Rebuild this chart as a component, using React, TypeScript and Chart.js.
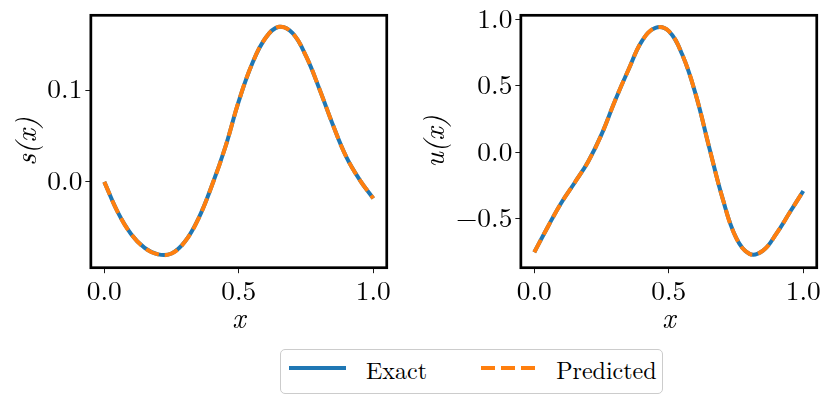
import React, { useEffect, useRef } from "react";
import { Chart, registerables } from "chart.js";

Chart.register(...registerables);

// ---- data ----
const xValues = [0, 0.05, 0.1, 0.15, 0.2, 0.25, 0.3, 0.35, 0.4, 0.45, 0.5, 0.55, 0.6, 0.65, 0.7, 0.75, 0.8, 0.85, 0.9, 0.95, 1.0];

const sExact = [0.0, -0.033, -0.057, -0.072, -0.079, -0.078, -0.065, -0.04, -0.004, 0.038, 0.088, 0.129, 0.157, 0.169, 0.162, 0.137, 0.101, 0.062, 0.027, 0.002, -0.018];
const sPredicted = [0.0, -0.033, -0.057, -0.072, -0.079, -0.078, -0.065, -0.04, -0.004, 0.038, 0.088, 0.129, 0.157, 0.169, 0.162, 0.137, 0.101, 0.062, 0.027, 0.002, -0.018];

const uExact = [-0.75, -0.56, -0.38, -0.228, -0.07, 0.135, 0.388, 0.62, 0.835, 0.935, 0.91, 0.734, 0.435, 0.039, -0.346, -0.64, -0.762, -0.738, -0.61, -0.45, -0.29];
const uPredicted = [-0.75, -0.56, -0.38, -0.228, -0.07, 0.135, 0.388, 0.62, 0.835, 0.935, 0.91, 0.734, 0.435, 0.039, -0.346, -0.64, -0.762, -0.738, -0.61, -0.45, -0.29];

const xTicks = [0, 0.5, 1.0];
const sTicks = [0, 0.1];
const uTicks = [-0.5, 0, 0.5, 1.0];

const seriesLabels = ["Exact", "Predicted"];

// ---- styles ----
const BLUE = "#1f77b4";
const ORANGE = "#ff7f0e";
const SERIF = "'Latin Modern Roman', 'Liberation Serif', serif";

function fmt(v: number): string {
  const s = Math.abs(v).toFixed(1);
  return v < 0 ? "\u2212" + s : s;
}

const framePlugin = {
  id: "frame",
  afterDraw(chart: any) {
    const { ctx, chartArea } = chart;
    const { left, top, right, bottom } = chartArea;
    ctx.save();
    ctx.strokeStyle = "#000";
    ctx.lineWidth = 2.7;
    ctx.strokeRect(left, top, right - left, bottom - top);
    ctx.restore();
  },
};

interface PanelProps {
  exact: number[];
  predicted: number[];
  yTicks: number[];
  yMin: number;
  yMax: number;
  yLabel: string;
  yAxisWidth: number;
  rightPad: number;
  yTitlePad: number;
}

function Panel(props: PanelProps) {
  const ref = useRef<HTMLCanvasElement>(null);
  useEffect(() => {
    const { exact, predicted, yTicks, yMin, yMax, yLabel, yAxisWidth, rightPad, yTitlePad } = props;
    const tickFont = { family: SERIF, size: 27.4 };
    const titleFont = { family: SERIF, size: 28.6, style: "italic" as const };
    const grid = {
      display: true,
      drawOnChartArea: false,
      drawTicks: true,
      tickLength: 5.5,
      tickWidth: 0.9,
      tickColor: "#000",
    };
    const chart = new Chart(ref.current!, {
      type: "line",
      data: {
        datasets: [
          {
            label: seriesLabels[0],
            data: xValues.map((x, i) => ({ x, y: exact[i] })),
            borderColor: BLUE,
            backgroundColor: BLUE,
            borderWidth: 4,
            pointRadius: 0,
            tension: 0.4,
            fill: false,
            order: 1,
          },
          {
            label: seriesLabels[1],
            data: xValues.map((x, i) => ({ x, y: predicted[i] })),
            borderColor: ORANGE,
            backgroundColor: ORANGE,
            borderWidth: 4,
            borderDash: [14, 6],
            pointRadius: 0,
            tension: 0.4,
            fill: false,
            order: 0,
          },
        ],
      },
      options: {
        animation: false,
        responsive: false,
        maintainAspectRatio: false,
        layout: { padding: { top: 15.3, right: rightPad, left: 0, bottom: 0 } },
        plugins: { legend: { display: false }, tooltip: { enabled: false } },
        scales: {
          x: {
            type: "linear",
            min: -0.05,
            max: 1.05,
            afterBuildTicks: (s: any) => {
              s.ticks = xTicks.map((v) => ({ value: v }));
            },
            ticks: {
              callback: (v: any) => fmt(Number(v)),
              font: tickFont,
              color: "#000",
              padding: 2,
              maxRotation: 0,
              autoSkip: false,
            },
            grid,
            border: { display: false },
            title: {
              display: true,
              text: "x",
              font: titleFont,
              color: "#000",
              padding: { top: 0, bottom: 3.3 },
            },
            afterFit: (s: any) => {
              s.height = 72.3;
              s.paddingLeft = 0;
              s.paddingRight = 0;
            },
          },
          y: {
            type: "linear",
            min: yMin,
            max: yMax,
            afterBuildTicks: (s: any) => {
              s.ticks = yTicks.map((v) => ({ value: v }));
            },
            ticks: {
              callback: (v: any) => fmt(Number(v)),
              font: tickFont,
              color: "#000",
              padding: 3,
              autoSkip: false,
            },
            grid,
            border: { display: false },
            title: {
              display: true,
              text: yLabel,
              font: titleFont,
              color: "#000",
              padding: { top: yTitlePad, bottom: 0 },
            },
            afterFit: (s: any) => {
              s.width = yAxisWidth;
              s.paddingTop = 0;
              s.paddingBottom = 0;
            },
          },
        },
      },
      plugins: [framePlugin],
    } as any);
    return () => chart.destroy();
  }, []);
  return <canvas ref={ref} width={415} height={340} style={{ display: "block", width: 415, height: 340 }} />;
}

function Legend() {
  const textStyle: React.CSSProperties = {
    position: "absolute",
    top: 6.6,
    fontFamily: SERIF,
    fontSize: 24,
    lineHeight: 1,
    color: "#000",
    whiteSpace: "nowrap",
  };
  const dash = (left: number): React.CSSProperties => ({
    position: "absolute",
    left,
    top: 16,
    width: 14,
    height: 4,
    background: ORANGE,
  });
  return (
    <div
      style={{
        position: "absolute",
        left: 280,
        top: 349,
        width: 383,
        height: 45,
        boxSizing: "border-box",
        border: "1.3px solid #cccccc",
        borderRadius: 5,
        background: "#fff",
      }}
    >
      <div style={{ position: "absolute", left: 7.7, top: 16, width: 57.7, height: 4, background: BLUE }} />
      <span style={{ ...textStyle, left: 85 }}>{seriesLabels[0]}</span>
      <div style={dash(200.4)} />
      <div style={dash(220.4)} />
      <div style={dash(240.4)} />
      <span style={{ ...textStyle, left: 275.2 }}>{seriesLabels[1]}</span>
    </div>
  );
}

export default function App() {
  return (
    <div style={{ position: "absolute", left: 0, top: 0, width: 830, height: 404, background: "#fff", overflow: "hidden" }}>
      <div style={{ position: "absolute", left: 0, top: 0 }}>
        <Panel
          exact={sExact}
          predicted={sPredicted}
          yTicks={sTicks}
          yMin={-0.0935}
          yMax={0.1815}
          yLabel="s(x)"
          yAxisWidth={90.85}
          rightPad={28.25}
          yTitlePad={10}
        />
      </div>
      <div style={{ position: "absolute", left: 415, top: 0 }}>
        <Panel
          exact={uExact}
          predicted={uPredicted}
          yTicks={uTicks}
          yMin={-0.866}
          yMax={1.029}
          yLabel="u(x)"
          yAxisWidth={105.85}
          rightPad={13.25}
          yTitlePad={3}
        />
      </div>
      <Legend />
    </div>
  );
}
